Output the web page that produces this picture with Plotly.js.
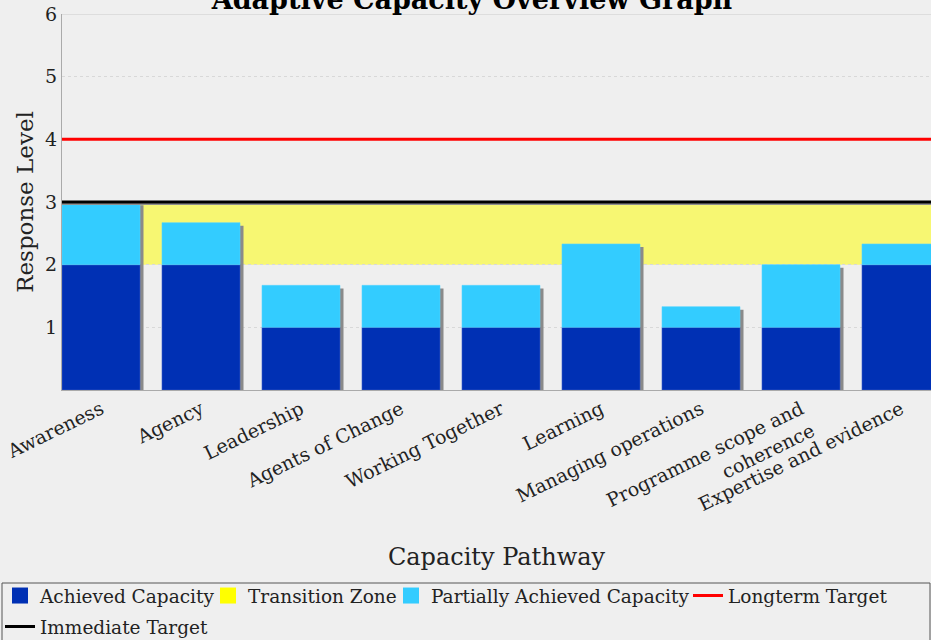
<!DOCTYPE html>
<html>
<head>
<meta charset="utf-8">
<script src="https://cdn.plot.ly/plotly-3.0.1.min.js"></script>
<style>html,body{margin:0;padding:0;background:#efefef;}#chart{width:931px;height:640px;}</style>
</head>
<body>
<div id="chart"></div>
<script>
const categories = ['Awareness','Agency','Leadership','Agents of Change','Working Together','Learning','Managing operations','Programme scope and<br>coherence','Expertise and evidence'];
const achieved = [2, 2, 1, 1, 1, 1, 1, 1, 2];
const partial = [1, 0.67, 0.67, 0.67, 0.67, 1.33, 0.33, 1, 0.33];
const transitionZone = [2, 3];
const longtermTarget = 4;
const immediateTarget = 3;
const yTicks = [1, 2, 3, 4, 5, 6];

const totals = achieved.map((a, i) => a + partial[i]);
const shadow = totals.map(t => t - 0.05);
const FONT = 'DejaVu Serif';
const W = 0.78;

const traces = [
  {type:'bar', x:categories, y:shadow, base:0, width:W, offset:-W/2+0.035,
   marker:{color:'#8a8a8a'}, showlegend:false, hoverinfo:'skip'},
  {type:'bar', name:'Achieved Capacity', x:categories, y:achieved, base:0, width:W, offset:-W/2,
   marker:{color:'#0030b4', line:{color:'#3a5cc8', width:0.6}}, showlegend:false},
  {type:'bar', name:'Partially Achieved Capacity', x:categories, y:partial, base:achieved, width:W, offset:-W/2,
   marker:{color:'#33ccff', line:{color:'#55d4ff', width:0.6}}, showlegend:false},
  {type:'scatter', mode:'markers', name:'Achieved Capacity', x:[categories[0]], y:[null], legendwidth:163,
   marker:{symbol:'square', size:16, color:'#0030b4'}},
  {type:'scatter', mode:'markers', name:'Transition Zone', x:[categories[0]], y:[null], legendwidth:138,
   marker:{symbol:'square', size:16, color:'#ffff00'}},
  {type:'scatter', mode:'markers', name:'Partially Achieved Capacity', x:[categories[0]], y:[null], legendwidth:252,
   marker:{symbol:'square', size:16, color:'#33ccff'}},
  {type:'scatter', mode:'lines', name:'Longterm Target', x:[categories[0]], y:[null], legendwidth:168,
   line:{color:'#ff0000', width:3}},
  {type:'scatter', mode:'lines', name:'Immediate Target', x:[categories[0]], y:[null], line:{color:'#000000', width:3}, legend:'legend2'}
];

const legendCommon = {orientation:'h', xref:'paper', yref:'paper', xanchor:'left', yanchor:'top',
  font:{family:FONT, size:18.5, color:'#222'}, bgcolor:'rgba(0,0,0,0)', borderwidth:0,
  traceorder:'normal', itemwidth:30, itemsizing:'trace'};

const layout = {
  width:931, height:640,
  paper_bgcolor:'#efefef', plot_bgcolor:'#efefef',
  margin:{l:62, r:0, t:14, b:250, autoexpand:false},
  font:{family:FONT, color:'#222'},
  barmode:'overlay',
  title:{text:'<b>Adaptive Capacity Overview Graph</b>', font:{family:FONT, size:27, color:'#000'},
         x:0.507, xanchor:'center', y:1.0, yref:'container', yanchor:'middle'},
  xaxis:{type:'category', range:[-0.39, 8.3], showgrid:false, showline:true, linecolor:'#aaaaaa', linewidth:1,
         tickangle:-26, tickfont:{family:FONT, size:19, color:'#222'}, ticks:'', fixedrange:true, automargin:false,
         title:{text:'Capacity Pathway', font:{family:FONT, size:24, color:'#222'}, standoff:15}},
  yaxis:{range:[0,6], tickvals:yTicks, showgrid:true, gridcolor:'#d8d8d8', griddash:'dot', gridwidth:1,
         showline:true, linecolor:'#aaaaaa', linewidth:1, zeroline:false, ticks:'', automargin:false,
         tickfont:{family:FONT, size:19, color:'#222'}, ticklabelstandoff:0,
         title:{text:'Response Level', font:{family:FONT, size:23, color:'#222'}, standoff:5}},
  shapes:[
    {type:'rect', xref:'paper', yref:'y', x0:0, x1:1, y0:transitionZone[0], y1:transitionZone[1],
     fillcolor:'rgba(255,255,0,0.52)', line:{width:0}, layer:'below'},
    {type:'line', xref:'paper', yref:'y', x0:0, x1:1, y0:6, y1:6, line:{color:'#cccccc', width:1}, layer:'below'},
    {type:'line', xref:'paper', yref:'y', x0:0, x1:1, y0:immediateTarget-0.03, y1:immediateTarget-0.03, line:{color:'#909090', width:2}},
    {type:'line', xref:'paper', yref:'y', x0:0, x1:1, y0:immediateTarget, y1:immediateTarget, line:{color:'#000000', width:3}},
    {type:'line', xref:'paper', yref:'y', x0:0, x1:1, y0:longtermTarget, y1:longtermTarget, line:{color:'#ff0000', width:3}},
    {type:'rect', xref:'paper', yref:'paper', x0:(2-62)/869, x1:(930-62)/869, y0:(390-642)/376, y1:(390-583)/376,
     line:{color:'#555555', width:1}, fillcolor:'rgba(0,0,0,0)'}
  ],
  showlegend:true,
  legend:Object.assign({}, legendCommon, {x:-62/869, y:(390-577)/376}),
  legend2:Object.assign({}, legendCommon, {x:-62/869, y:(390-608)/376})
};

Plotly.newPlot('chart', traces, layout, {displayModeBar:false, staticPlot:true});
</script>
</body>
</html>
